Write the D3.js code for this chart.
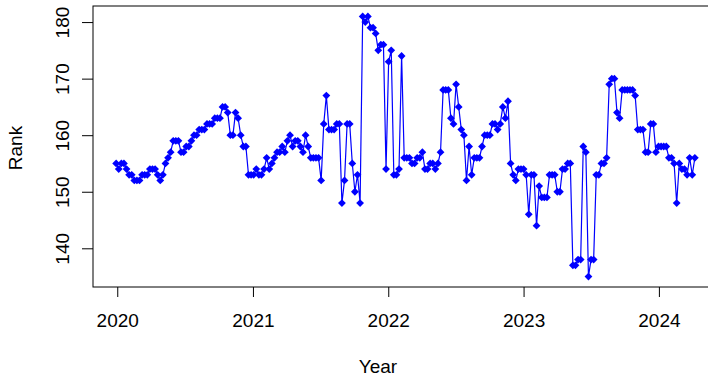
<!DOCTYPE html>
<html>
<head>
<meta charset="utf-8">
<script src="https://cdn.jsdelivr.net/npm/d3@7"></script>
<style>
  body { margin: 0; background: #fff; }
  text { font-family: "Liberation Sans", Arial, Helvetica, sans-serif; fill: #000; }
</style>
</head>
<body>
<div class="rankchart"></div>
<script>
// weekly rank, first week starting 2019-12-29
const firstWeek = new Date(2019, 11, 29);

const rank2020 = [155, 154, 155, 155, 154, 153, 153, 152, 152, 152,
  153, 153, 153, 154, 154, 154, 153, 152, 153, 155,
  156, 157, 159, 159, 159, 157, 157, 158, 158, 159,
  160, 160, 161, 161, 161, 162, 162, 162, 163, 163,
  163, 165, 165, 164, 160, 160, 164, 163, 160, 158,
  158, 153];
const rank2021 = [153, 153, 154, 153, 153, 154, 156, 154, 155, 156,
  157, 157, 158, 157, 159, 160, 158, 159, 159, 158,
  157, 160, 158, 156, 156, 156, 156, 152,
  162, 167, 161, 161, 161, 162, 162, 148, 152, 162,
  162, 155, 150, 153, 148, 181, 180, 181, 179, 179,
  178, 175, 176, 176];
const rank2022 = [154, 173, 175, 153, 153, 154, 174, 156,
  156, 156, 155, 155, 156, 156, 157, 154, 154, 155, 155, 154, 155, 157,
  168, 168, 168, 163, 162, 169, 165, 161, 160, 152, 158, 153, 156, 156, 156,
  158, 160, 160, 160, 162, 162, 161, 162, 165, 163, 166, 155, 153, 152, 154];
const rank2023 = [154, 154, 153, 146,
  153, 153, 144, 151, 149, 149, 149, 153, 153, 153, 150, 150, 154, 154, 155, 155,
  137, 137, 138, 138, 158, 157, 135, 138, 138, 153, 153, 155, 155, 156,
  169, 170, 170, 164, 163, 168, 168, 168, 168, 168, 167, 161, 161, 161,
  157, 157, 162, 162];
const rank2024 = [157, 158, 158, 158, 158, 156, 156, 155, 148, 155, 154, 154, 153, 156, 153, 156];

const yearTicks = [2020, 2021, 2022, 2023, 2024];
const rankTicks = [140, 150, 160, 170, 180];

const width = 708, height = 377;
const plot = {left: 93, top: 6, right: 718, bottom: 287};
const fontSize = 19;

const ranks = [].concat(rank2020, rank2021, rank2022, rank2023, rank2024);
const data = ranks.map((r, i) => ({date: d3.timeDay.offset(firstWeek, 7 * i), rank: r}));

// R style axis range: data extent padded by 4%
function pad(ext) {
  let d = (ext[1] - ext[0]) * 0.04;
  return [ext[0] - d, ext[1] + d];
}

let xExt = pad(d3.extent(data, d => +d.date));
let x = d3.scaleTime()
  .domain([new Date(xExt[0]), new Date(xExt[1])])
  .range([plot.left, plot.right]);
let y = d3.scaleLinear()
  .domain(pad(d3.extent(data, d => d.rank)))
  .range([plot.bottom, plot.top]);

let svg = d3.select('.rankchart')
  .append('svg')
  .attr('width', width)
  .attr('height', height);

svg.append('rect')
  .attr('width', width)
  .attr('height', height)
  .attr('fill', '#fff');

let blue = '#0000ff';

let drawLine = d3.line()
  .x(d => x(d.date))
  .y(d => y(d.rank));

svg.append('path')
  .datum(data)
  .attr('d', drawLine)
  .attr('fill', 'none')
  .attr('stroke', blue)
  .attr('stroke-width', 1.2);

let r = 3.9;
svg.selectAll('.pt')
  .data(data)
  .enter().append('path')
  .attr('class', 'pt')
  .attr('d', 'M0,' + (-r) + 'L' + r + ',0L0,' + r + 'L' + (-r) + ',0Z')
  .attr('transform', d => 'translate(' + x(d.date) + ',' + y(d.rank) + ')')
  .attr('fill', blue);

// box (right side runs past the window)
svg.append('rect')
  .attr('x', plot.left)
  .attr('y', plot.top)
  .attr('width', plot.right - plot.left)
  .attr('height', plot.bottom - plot.top)
  .attr('fill', 'none')
  .attr('stroke', '#000')
  .attr('stroke-width', 1);

// x axis
let xAxis = svg.append('g')
  .attr('transform', 'translate(0,' + plot.bottom + ')')
  .call(d3.axisBottom(x)
    .tickValues(yearTicks.map(yr => new Date(yr, 0, 1)))
    .tickSize(10)
    .tickPadding(17)
    .tickFormat(d3.timeFormat('%Y')));
xAxis.select('.domain').remove();
xAxis.selectAll('line').attr('stroke', '#000');
xAxis.selectAll('text')
  .attr('font-size', fontSize)
  .attr('font-family', null);

// y axis
let yAxis = svg.append('g')
  .attr('transform', 'translate(' + plot.left + ',0)')
  .call(d3.axisLeft(y)
    .tickValues(rankTicks)
    .tickSize(11)
    .tickFormat(d3.format('d')));
yAxis.select('.domain').remove();
yAxis.selectAll('line').attr('stroke', '#000');
yAxis.selectAll('text')
  .attr('x', null)
  .attr('dy', null)
  .attr('font-size', fontSize)
  .attr('font-family', null)
  .attr('text-anchor', 'middle')
  .attr('transform', 'translate(-24,0) rotate(-90)');

svg.append('text')
  .attr('x', 378)
  .attr('y', 373)
  .attr('text-anchor', 'middle')
  .attr('font-size', fontSize)
  .text('Year');

svg.append('text')
  .attr('transform', 'translate(22,148) rotate(-90)')
  .attr('text-anchor', 'middle')
  .attr('font-size', fontSize)
  .text('Rank');
</script>
</body>
</html>
